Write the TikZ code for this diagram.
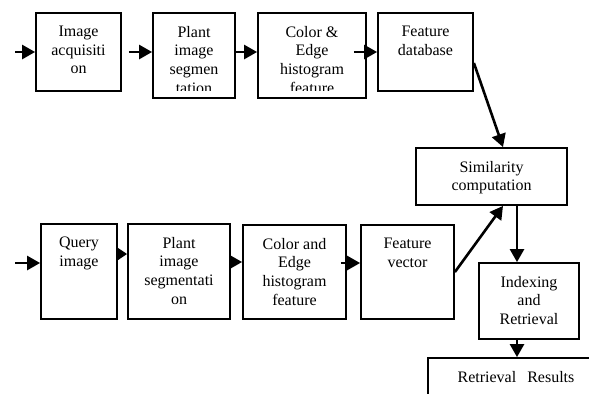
\documentclass[tikz,border=0pt]{standalone}
\usepackage{fontspec}
\setmainfont{Liberation Serif}
\usetikzlibrary{arrows.meta,calc}
\begin{document}
\begin{tikzpicture}[x=1bp,y=-1bp,
  box/.style={draw, line width=1.8bp, inner sep=0pt, rectangle},
  lbl/.style={draw=none, inner sep=0pt, minimum width=0pt, minimum height=0pt, align=center, font=\fontsize{16bp}{18.8bp}\selectfont, anchor=north},
  boxt/.style={box, path picture={
      \clip ([yshift=8bp]path picture bounding box.south west) rectangle (path picture bounding box.north east);
      \node[lbl] at ([yshift=-12bp]path picture bounding box.north) {#1};}},
  arr/.style={line width=2.6bp, -{Triangle[length=13bp,width=14bp]}},
  arrs/.style={line width=2.6bp, -{Triangle[length=11bp,width=14bp]}}]
\useasboundingbox (0,0) rectangle (589,393);

% top row
\node[boxt={Image\\acquisiti\\on}, minimum width=85bp, minimum height=78bp] (b1) at (78.5,52) {};
\node[boxt={Plant\\image\\segmen\\tation}, minimum width=82bp, minimum height=85bp] (b2) at (194,55.5) {};
\node[boxt={Color \&\\Edge\\histogram\\feature}, minimum width=108bp, minimum height=85bp] (b3) at (312,55.5) {};
\node[boxt={Feature\\database}, minimum width=95bp, minimum height=78bp] (b4) at (425.5,52) {};
\node[boxt={Similarity\\computation}, minimum width=151bp, minimum height=57bp] (sim) at (491.5,176.5) {};

% bottom row
\node[boxt={Query\\image}, minimum width=76bp, minimum height=95bp] (q1) at (79,271.5) {};
\node[boxt={Plant\\image\\segmentati\\on}, minimum width=102bp, minimum height=95bp] (q2) at (179,271.5) {};
\node[boxt={Color and\\Edge\\histogram\\feature\\f}, minimum width=103bp, minimum height=94bp] (q3) at (294.5,272) {};
\node[boxt={Feature\\vector}, minimum width=93bp, minimum height=94bp] (q4) at (407.5,272) {};
\node[boxt={Indexing\\and\\Retrieval}, minimum width=100bp, minimum height=76bp] (idx) at (529,301) {};
\node[boxt={Retrieval\hspace{11bp}Results}, minimum width=176bp, minimum height=60bp] (res) at (516,388) {};

% top row connectors
\coordinate (s1) at (15,52);
\draw[arr] (s1) -- (b1.west);
\coordinate (t2) at ($(b1.east)+(7,0)$);
\draw[arr] (t2) -- (b2.west |- t2);
\coordinate (t3) at (b2.east |- s1);
\draw[arr] (t3) -- (b3.west |- s1);
\coordinate (t4) at ($(b3.east |- s1)+(-13,0)$);
\draw[arr] (t4) -- (b4.west);
\draw[arr] ($(b4.east)+(0,11)$) -- ($(sim.north)+(11.5,0)$);

% bottom row connectors
\coordinate (s2) at (15,263);
\draw[arr] (s2) -- (q1.west |- s2);
\coordinate (u2) at (q1.east |- 0,254);
\draw[arrs] (u2) -- (q2.west |- u2);
\coordinate (u3) at (q2.east |- 0,262);
\draw[arr] (u3) -- (q3.west |- u3);
\coordinate (u4) at ($(q3.east |- s2)+(-6,0)$);
\draw[arr] (u4) -- (q4.west |- s2);
\draw[arr] (q4.east) -- ($(sim.south)+(11.5,0)$);
\coordinate (v1) at ($(sim.south)+(25.5,0)$);
\draw[arr] (v1) -- (idx.north -| v1);
\coordinate (v2) at (idx.south -| v1);
\draw[arr] (v2) -- (res.north -| v1);
\end{tikzpicture}
\end{document}
